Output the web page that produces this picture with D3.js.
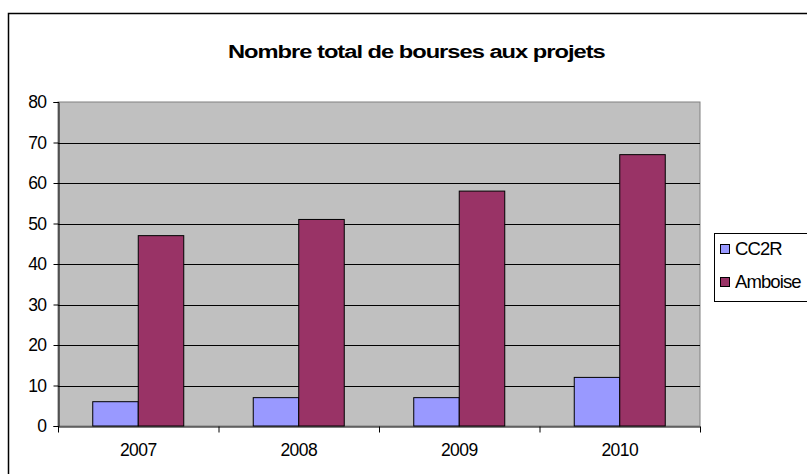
<!DOCTYPE html>
<html>
<head>
<meta charset="utf-8">
<script src="https://cdn.jsdelivr.net/npm/d3@7"></script>
<style>
  body { margin: 0; background: #fff; }
  text { font-family: "Liberation Sans", Arial, sans-serif; }
</style>
</head>
<body>
<div id="chart"></div>
<script>
const years = ["2007", "2008", "2009", "2010"];
const cc2r = [6, 7, 7, 12];
const amboise = [47, 51, 58, 67];
const seriesNames = ["CC2R", "Amboise"];
const seriesColors = ["#9999ff", "#993366"];
const yTicks = [0, 10, 20, 30, 40, 50, 60, 70, 80];

const width = 807, height = 474;
const plot = { left: 58, right: 700, top: 102, bottom: 426 };

const svg = d3.select("#chart").append("svg")
    .attr("width", width).attr("height", height);

// outer frame (right and bottom fall outside the picture)
svg.append("rect")
    .attr("x", 8.5).attr("y", 13.5)
    .attr("width", 830).attr("height", 500)
    .attr("fill", "#fff").attr("stroke", "#000").attr("stroke-width", 1.5);

// title, stretched sideways like the original
const title = svg.append("text")
    .attr("font-size", 19).attr("font-weight", "bold")
    .attr("letter-spacing", -0.8)
    .text("Nombre total de bourses aux projets");
const tw = title.node().getComputedTextLength();
title.attr("transform", `translate(228,58) scale(${377 / tw},1)`);

const x = d3.scaleBand().domain(years).range([plot.left, plot.right]);
const y = d3.scaleLinear().domain([0, 80]).range([plot.bottom, plot.top]);

// plot background
svg.append("rect")
    .attr("x", plot.left).attr("y", plot.top)
    .attr("width", plot.right - plot.left).attr("height", plot.bottom - plot.top)
    .attr("fill", "#c0c0c0").attr("stroke", "#808080").attr("stroke-width", 1);

// gridlines
svg.append("g").selectAll("line")
    .data(yTicks.filter(d => d > 0 && d < 80))
    .enter().append("line")
    .attr("x1", plot.left).attr("x2", plot.right)
    .attr("y1", d => Math.round(y(d)) + 0.5).attr("y2", d => Math.round(y(d)) + 0.5)
    .attr("stroke", "#000").attr("stroke-width", 1);

// bars
const barW = x.bandwidth() * 0.2835;
const groupOff = (x.bandwidth() - 2 * barW) / 2;
const series = [cc2r, amboise];
series.forEach((vals, si) => {
    svg.append("g").selectAll("rect")
        .data(vals)
        .enter().append("rect")
        .attr("x", (d, i) => x(years[i]) + groupOff + si * barW)
        .attr("y", d => y(d))
        .attr("width", barW)
        .attr("height", d => y(0) - y(d))
        .attr("fill", seriesColors[si])
        .attr("stroke", "#000").attr("stroke-width", 1);
});

// y axis
const yAxis = svg.append("g")
    .attr("transform", `translate(${plot.left + 0.5},0)`)
    .call(d3.axisLeft(y).tickValues(yTicks).tickSize(5).tickPadding(7));
yAxis.select(".domain").attr("stroke", "#000");
yAxis.selectAll("text").attr("font-size", 17.5).attr("fill", "#000")
    .attr("letter-spacing", -0.6)
    .attr("font-family", "Liberation Sans, Arial, sans-serif");

// x axis
const xAxis = svg.append("g")
    .attr("transform", `translate(0,${plot.bottom + 0.5})`)
    .call(d3.axisBottom(x).tickSize(0).tickPadding(17));
xAxis.select(".domain").attr("stroke", "#000");
xAxis.selectAll("text").attr("font-size", 17.5).attr("fill", "#000")
    .attr("letter-spacing", -0.6)
    .attr("font-family", "Liberation Sans, Arial, sans-serif");
xAxis.selectAll(".sep")
    .data(years.map((d, i) => i).concat([years.length]))
    .enter().append("line")
    .attr("x1", i => plot.left + i * x.step() + 0.5)
    .attr("x2", i => plot.left + i * x.step() + 0.5)
    .attr("y1", 0).attr("y2", 6)
    .attr("stroke", "#000");

// legend
const legend = svg.append("g");
legend.append("rect")
    .attr("x", 714.5).attr("y", 233.5)
    .attr("width", 120).attr("height", 68)
    .attr("fill", "#fff").attr("stroke", "#000");
seriesNames.forEach((name, i) => {
    const ly = 249 + i * 33;
    legend.append("rect")
        .attr("x", 720.5).attr("y", ly - 4.5)
        .attr("width", 9).attr("height", 9)
        .attr("fill", seriesColors[i]).attr("stroke", "#000");
    legend.append("text")
        .attr("x", 735).attr("y", ly + 5.5)
        .attr("font-size", 18.5).attr("letter-spacing", -0.9)
        .text(name);
});
</script>
</body>
</html>
